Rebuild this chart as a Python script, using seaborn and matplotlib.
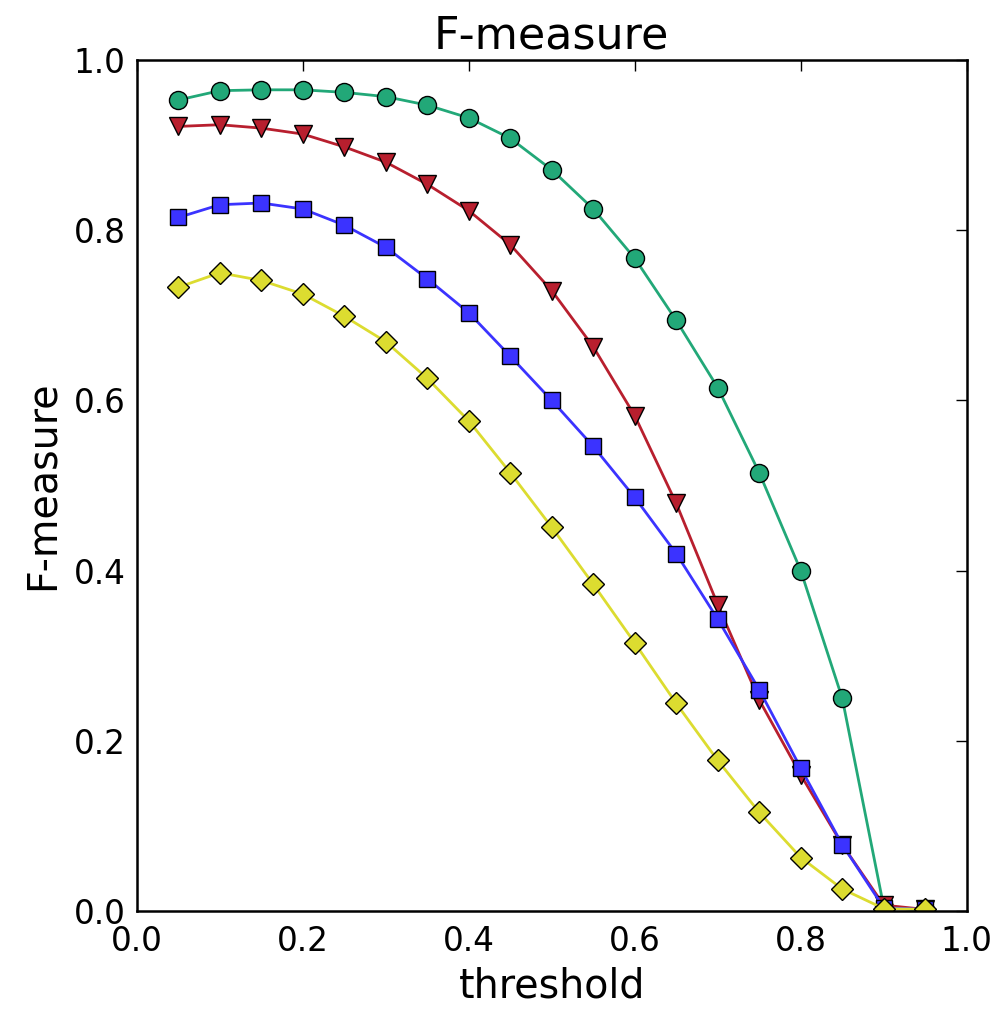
import matplotlib
matplotlib.use("Agg")
import matplotlib.pyplot as plt
import seaborn as sns
import pandas as pd

thresholds = [0.05, 0.10, 0.15, 0.20, 0.25, 0.30, 0.35, 0.40, 0.45, 0.50,
              0.55, 0.60, 0.65, 0.70, 0.75, 0.80, 0.85, 0.90, 0.95]

green_vals = [0.953, 0.964, 0.965, 0.965, 0.962, 0.957, 0.947, 0.932, 0.908, 0.871,
              0.825, 0.767, 0.694, 0.615, 0.515, 0.400, 0.250, 0.005, 0.001]
red_vals = [0.922, 0.924, 0.920, 0.913, 0.898, 0.880, 0.854, 0.823, 0.783, 0.729,
            0.663, 0.582, 0.479, 0.360, 0.248, 0.160, 0.078, 0.007, 0.002]
blue_vals = [0.815, 0.830, 0.832, 0.825, 0.806, 0.780, 0.743, 0.703, 0.652, 0.600,
             0.546, 0.486, 0.420, 0.343, 0.260, 0.168, 0.078, 0.004, 0.002]
yellow_vals = [0.733, 0.750, 0.741, 0.725, 0.699, 0.669, 0.626, 0.576, 0.515, 0.451,
               0.384, 0.315, 0.244, 0.177, 0.116, 0.063, 0.026, 0.003, 0.002]

series = [
    ("green", green_vals, "#22a878", "o", 13),
    ("red", red_vals, "#b81f2e", "v", 13),
    ("blue", blue_vals, "#3b33ff", "s", 12),
    ("yellow", yellow_vals, "#dcdc30", "D", 11),
]

title_text = "F-measure"
xlabel_text = "threshold"
ylabel_text = "F-measure"
tick_vals = [0.0, 0.2, 0.4, 0.6, 0.8, 1.0]

sns.set_style("white")
plt.rcParams['font.family'] = ['DejaVu Sans']
plt.rcParams['text.color'] = 'black'
plt.rcParams['axes.labelcolor'] = 'black'
plt.rcParams['xtick.color'] = 'black'
plt.rcParams['ytick.color'] = 'black'

fig = plt.figure(figsize=(10.06, 10.09), dpi=100)
ax = fig.add_axes([0.136, 0.097, 0.825, 0.8435])

for name, vals, color, marker, ms in series:
    df = pd.DataFrame({"threshold": thresholds, "F": vals})
    sns.lineplot(data=df, x="threshold", y="F", ax=ax, color=color, marker=marker,
                 markersize=ms, markeredgecolor="black", markeredgewidth=1.0,
                 linewidth=2.0, markerfacecolor=color)

ax.set_xlim(0, 1)
ax.set_ylim(0, 1)
ax.set_xticks(tick_vals)
ax.set_yticks(tick_vals)
ax.set_xticklabels([f"{t:.1f}" for t in tick_vals])
ax.set_yticklabels([f"{t:.1f}" for t in tick_vals])
ax.tick_params(direction="in", length=8, width=1, top=True, right=True,
               labelsize=23.5, colors="black")
ax.tick_params(axis="x", pad=10)
ax.tick_params(axis="y", pad=8)
for sp in ax.spines.values():
    sp.set_color("black")
    sp.set_linewidth(1.8)
    sp.set_visible(True)
ax.set_title(title_text, fontsize=32, pad=8, color="black")
ax.set_xlabel(xlabel_text, fontsize=28.5, labelpad=6)
ax.set_ylabel(ylabel_text, fontsize=28.5, labelpad=8)
ax.grid(False)

fig.savefig("out.png", dpi=100)
